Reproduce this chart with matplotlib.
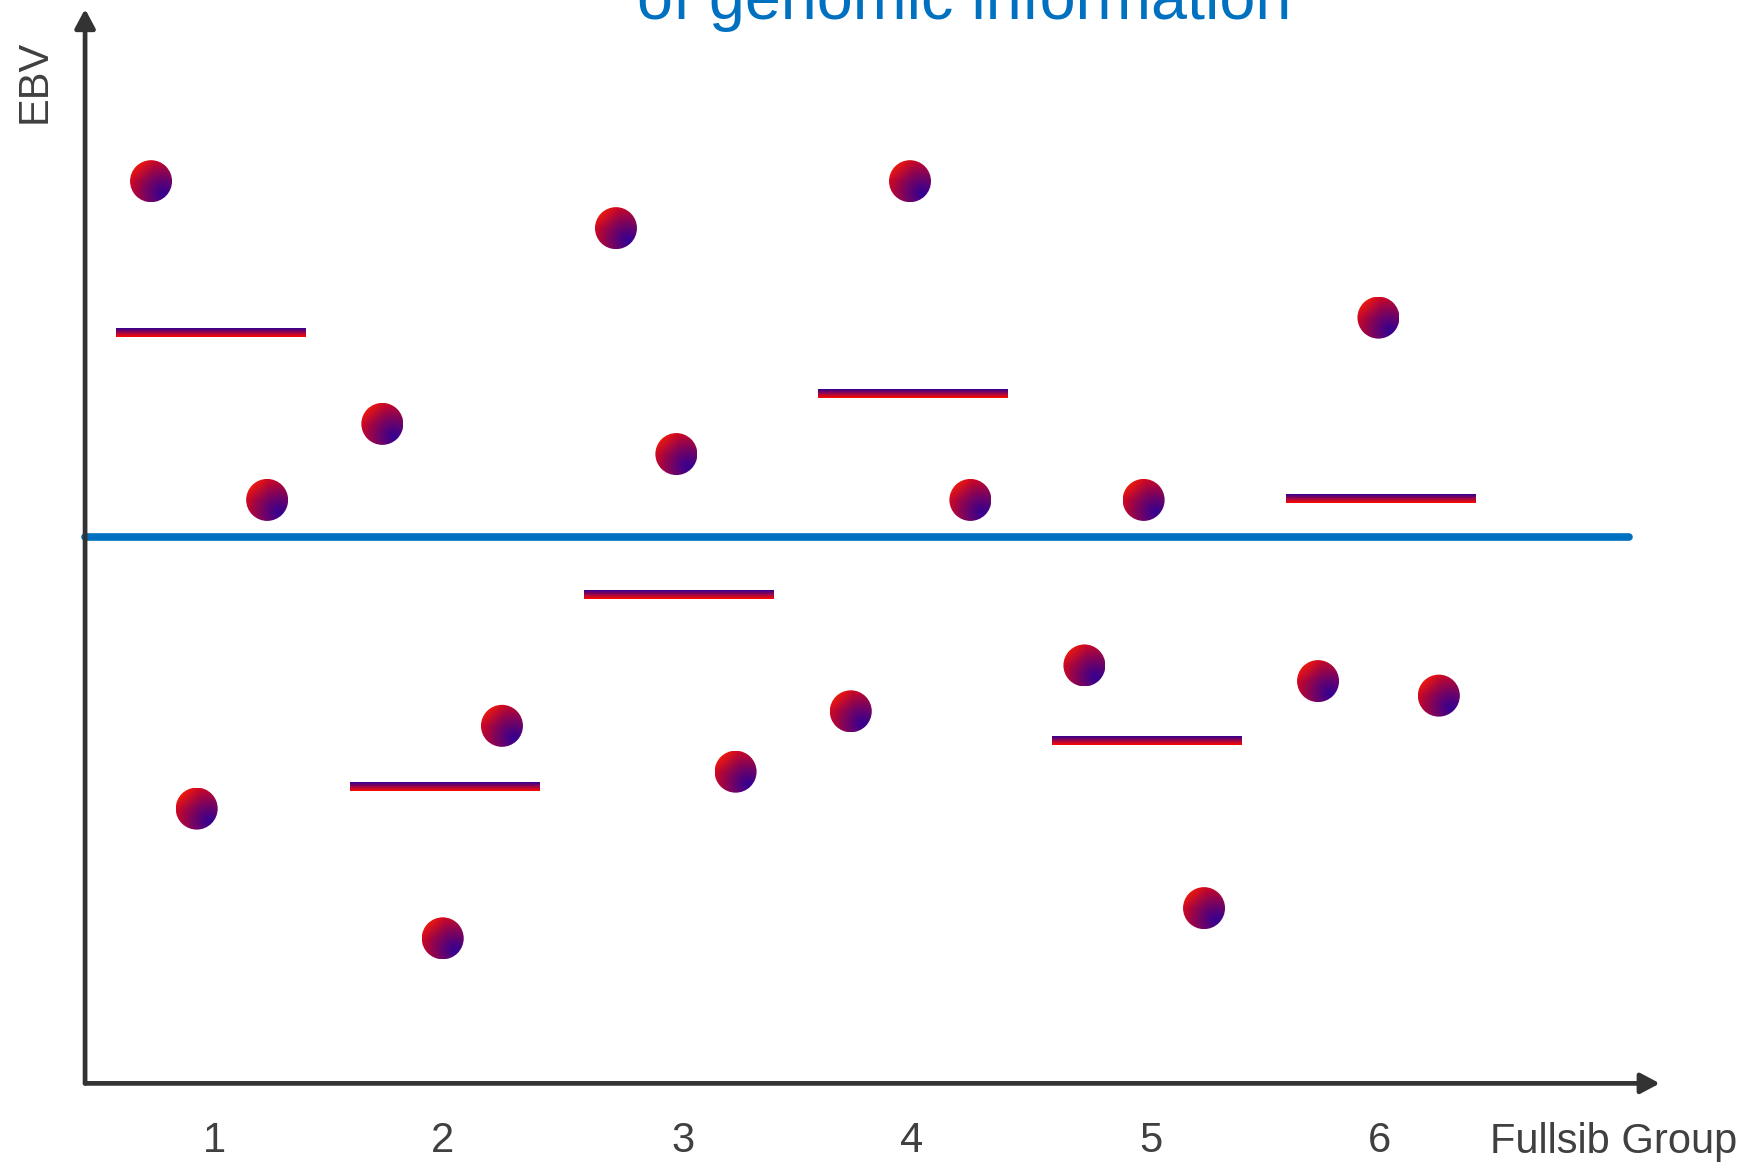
import numpy as np
import matplotlib
matplotlib.use("Agg")
import matplotlib.pyplot as plt
from matplotlib.patches import Ellipse

plt.rcParams['font.family'] = ['Liberation Sans', 'DejaVu Sans']

# ---- data ----
groups = [1, 2, 3, 4, 5, 6]
tick_labels = ["1", "2", "3", "4", "5", "6"]
tick_pos = [1.017, 1.991, 3.018, 3.992, 5.014, 5.993]
# individual EBVs (x position within group, EBV value)
point_x = [0.745, 1.241, 0.940,
           1.733, 2.244, 1.991,
           2.731, 2.989, 3.242,
           3.987, 4.245, 3.734,
           4.985, 4.732, 5.243,
           5.988, 5.730, 6.246]
point_y = [3.18, 0.33, -2.43,
           1.01, -1.69, -3.59,
           2.76, 0.74, -2.10,
           3.18, 0.33, -1.56,
           0.33, -1.15, -3.32,
           1.96, -1.29, -1.42]
# family means
group_means = [1.83, -2.23, -0.52, 1.28, -1.82, 0.34]
overall_mean = 0.0

title_text = "of genomic information"
xlabel_text = "Fullsib Group"
ylabel_text = "EBV"

# ---- figure ----
W, H = 1753, 1162
fig = plt.figure(figsize=(W / 100, H / 100), dpi=100)
ax = fig.add_axes([0, 0, 1, 1])
ax.set_axis_off()

XLIM = (0.0998, 7.588)
YLIM = (-5.59, 4.80)

px_per_x = W / (XLIM[1] - XLIM[0])
px_per_y = H / (YLIM[1] - YLIM[0])

axis_color = "#333333"
text_color = "#404040"
blue = "#0070C0"

def hexrgb(h):
    h = h.lstrip('#')
    return np.array([int(h[i:i + 2], 16) / 255 for i in (0, 2, 4)])

red = hexrgb("#FF0A00")
indigo = hexrgb("#360090")

# axes arrows
x0 = 0.4632
ybase = -4.887
ax.annotate("", xy=(7.19, ybase), xytext=(x0, ybase),
            arrowprops=dict(arrowstyle="-|>,head_length=0.6,head_width=0.32",
                            lw=3.4, color=axis_color, mutation_scale=19,
                            shrinkA=0, shrinkB=0), zorder=3)
ax.annotate("", xy=(x0, 4.72), xytext=(x0, ybase),
            arrowprops=dict(arrowstyle="-|>,head_length=0.6,head_width=0.32",
                            lw=3.4, color=axis_color, mutation_scale=19,
                            shrinkA=0, shrinkB=0), zorder=3)

# overall mean line
ax.plot([x0, 7.058], [overall_mean, overall_mean], color=blue, lw=5.5,
        solid_capstyle="round", zorder=2)

# dot gradient image
n = 80
yy, xx = np.mgrid[0:n, 0:n] / (n - 1)
d = np.sqrt((xx - 0.8) ** 2 + (yy - 0.8) ** 2) / 1.05
t = np.clip(d, 0, 1) ** 1.2
dot_img = indigo[None, None, :] * (1 - t[..., None]) + red[None, None, :] * t[..., None]
# slight orange tint on top-left
orange = hexrgb("#FF3C00")
o = np.clip((0.5 - yy) / 0.5, 0, 1) * np.clip((0.55 - xx) / 0.55, 0, 1)
dot_img = dot_img * (1 - 0.6 * o[..., None]) + orange[None, None, :] * 0.6 * o[..., None]

r_px = 21.0
rx = r_px / px_per_x
ry = r_px / px_per_y
for px, py in zip(point_x, point_y):
    e = Ellipse((px, py), 2 * rx, 2 * ry, facecolor="none", edgecolor="none")
    ax.add_patch(e)
    im = ax.imshow(dot_img, extent=[px - rx, px + rx, py - ry, py + ry],
                   origin="upper", aspect="auto", interpolation="bilinear", zorder=4)
    im.set_clip_path(e)

# mean bar gradient (top indigo -> bottom red)
m = 40
tv = np.linspace(0, 1, m)[:, None]
bar_img = indigo[None, None, :] * (1 - tv[..., None]) + red[None, None, :] * tv[..., None]
bar_img = np.repeat(bar_img, 4, axis=1)
half_w = 0.405
bh = 9.0 / px_per_y
for g, mval in zip(groups, group_means):
    ax.imshow(bar_img, extent=[g - half_w, g + half_w, mval - bh / 2, mval + bh / 2],
              origin="upper", aspect="auto", interpolation="bilinear", zorder=3)

ax.set_xlim(*XLIM)
ax.set_ylim(*YLIM)

# tick labels
tick_y = 1 - 1141 / H
for tp, lab in zip(tick_pos, tick_labels):
    ax.text(tp, tick_y, lab, transform=ax.get_xaxis_transform(),
            ha="center", va="center", fontsize=30, color=text_color)

fig.text(1490 / W, 1 - 1142 / H, xlabel_text, ha="left", va="center",
         fontsize=30, color=text_color)
fig.text(35 / W, 1 - 81 / H, ylabel_text, ha="center", va="center",
         rotation=90, fontsize=30, color=text_color)

fig.text(964 / W, 1 - 19 / H, title_text, ha="center", va="baseline",
         fontsize=46.5, color=blue)

fig.savefig("out.png", dpi=100)
